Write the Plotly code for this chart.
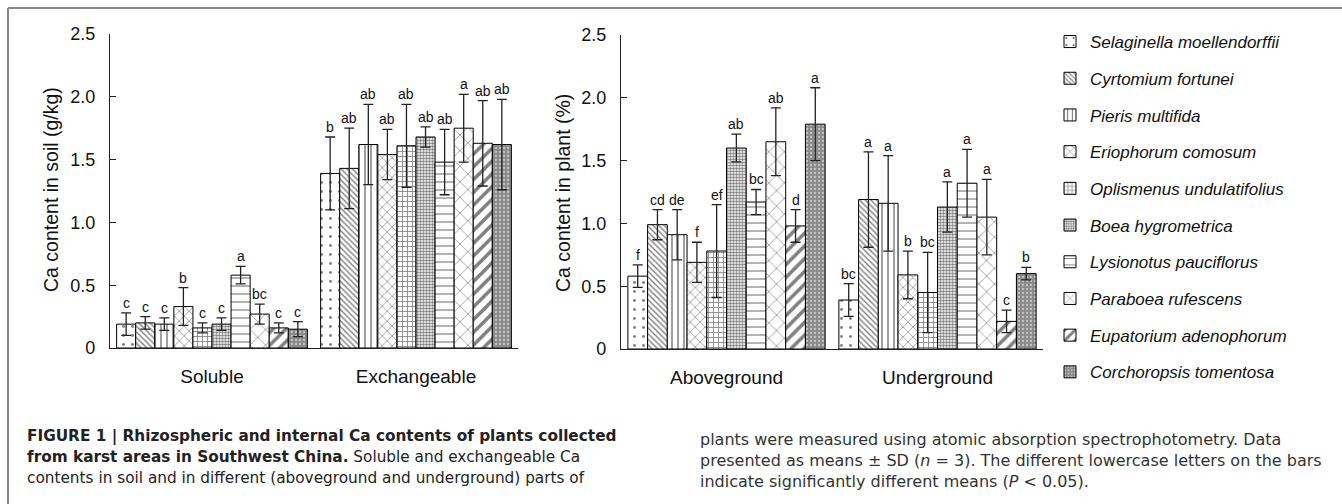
import plotly.graph_objects as go

species = ["Selaginella moellendorffii", "Cyrtomium fortunei", "Pieris multifida",
           "Eriophorum comosum", "Oplismenus undulatifolius", "Boea hygrometrica",
           "Lysionotus pauciflorus", "Paraboea rufescens", "Eupatorium adenophorum",
           "Corchoropsis tomentosa"]

soil_groups = ["Soluble", "Exchangeable"]
plant_groups = ["Aboveground", "Underground"]

soluble_mean = [0.19, 0.20, 0.19, 0.33, 0.16, 0.19, 0.58, 0.27, 0.16, 0.15]
soluble_sd = [0.09, 0.05, 0.05, 0.15, 0.04, 0.05, 0.07, 0.08, 0.04, 0.06]
soluble_sig = ["c", "c", "c", "b", "c", "c", "a", "bc", "c", "c"]

exch_mean = [1.39, 1.43, 1.62, 1.54, 1.61, 1.68, 1.48, 1.75, 1.63, 1.62]
exch_sd = [0.29, 0.32, 0.32, 0.20, 0.33, 0.08, 0.26, 0.27, 0.34, 0.36]
exch_sig = ["b", "ab", "ab", "ab", "ab", "ab", "ab", "a", "ab", "ab"]

above_mean = [0.58, 0.99, 0.91, 0.69, 0.78, 1.60, 1.17, 1.65, 0.98, 1.79]
above_sd = [0.09, 0.12, 0.20, 0.16, 0.37, 0.11, 0.10, 0.27, 0.13, 0.29]
above_sig = ["f", "cd", "de", "f", "ef", "ab", "bc", "ab", "d", "a"]

under_mean = [0.39, 1.19, 1.16, 0.59, 0.45, 1.13, 1.32, 1.05, 0.22, 0.60]
under_sd = [0.13, 0.38, 0.38, 0.19, 0.32, 0.20, 0.27, 0.30, 0.09, 0.05]
under_sig = ["bc", "a", "a", "b", "bc", "a", "a", "a", "c", "b"]

ytick_vals = [0, 0.5, 1.0, 1.5, 2.0, 2.5]
ytick_text = ["0", "0.5", "1.0", "1.5", "2.0", "2.5"]

patterns = [
    dict(shape=".", size=9, solidity=0.08, fgcolor="black", bgcolor="white"),
    dict(shape="\\", size=4, solidity=0.35, fgcolor="black", bgcolor="white"),
    dict(shape="|", size=6, solidity=0.25, fgcolor="black", bgcolor="white"),
    dict(shape="x", size=7, solidity=0.18, fgcolor="black", bgcolor="white"),
    dict(shape="+", size=5, solidity=0.3, fgcolor="black", bgcolor="white"),
    dict(shape=".", size=3, solidity=0.55, fgcolor="black", bgcolor="white"),
    dict(shape="-", size=8, solidity=0.15, fgcolor="black", bgcolor="white"),
    dict(shape="x", size=11, solidity=0.12, fgcolor="black", bgcolor="white"),
    dict(shape="/", size=9, solidity=0.4, fgcolor="black", bgcolor="white"),
    dict(shape=".", size=4, solidity=0.25, fgcolor="white", bgcolor="#8a8a8a"),
]

FONT = "Liberation Sans, Arial, sans-serif"
CAPFONT = "DejaVu Sans, Liberation Sans, sans-serif"
GAP = 0.065
n = len(species)
w = (1 - GAP) / n

fig = go.Figure()
annotations = []

panels = [
    ("x", "y", [soluble_mean, exch_mean], [soluble_sd, exch_sd], [soluble_sig, exch_sig]),
    ("x2", "y2", [above_mean, under_mean], [above_sd, under_sd], [above_sig, under_sig]),
]

for p, (xa, ya, means, sds, sigs) in enumerate(panels):
    for j, name in enumerate(species):
        xs = [g + (j - (n - 1) / 2) * w for g in range(2)]
        ys = [means[g][j] for g in range(2)]
        es = [sds[g][j] for g in range(2)]
        fig.add_trace(go.Bar(
            x=xs, y=ys, width=w, name=name, xaxis=xa, yaxis=ya,
            legendgroup=name, showlegend=(p == 0),
            marker=dict(color="white", pattern=patterns[j],
                        line=dict(color="black", width=1)),
            error_y=dict(type="data", array=es, visible=True, color="#222",
                         thickness=1.3, width=5),
        ))
        for g in range(2):
            annotations.append(dict(
                x=xs[g], y=ys[g] + es[g], xref=xa, yref=ya, text=sigs[g][j],
                showarrow=False, yanchor="bottom", yshift=0,
                font=dict(family=FONT, size=14, color="#111")))

W, H = 1342, 504
def px(v):
    return v / W
def py(v):
    return 1 - v / H

axis_common = dict(range=[0, 2.5], tickvals=ytick_vals, ticktext=ytick_text,
                   ticks="inside", ticklen=6, tickcolor="#222", showline=True,
                   linecolor="#222", linewidth=1.2, showgrid=False, zeroline=False,
                   tickfont=dict(family=FONT, size=18, color="#111"),
                   ticklabelstandoff=10, automargin=False)
xcommon = dict(range=[-0.5, 1.5], tickvals=[0, 1], showline=True, linecolor="#222",
               linewidth=1.2, showgrid=False, zeroline=False, ticks="",
               tickfont=dict(family=FONT, size=19, color="#111"),
               ticklabelstandoff=11, automargin=False)

fig.update_layout(
    width=W, height=H, margin=dict(l=0, r=0, t=0, b=0),
    paper_bgcolor="white", plot_bgcolor="white",
    barmode="overlay",
    xaxis=dict(domain=[px(110), px(518)], anchor="y", ticktext=soil_groups, **xcommon),
    yaxis=dict(domain=[py(348), py(34)], anchor="x", **axis_common),
    xaxis2=dict(domain=[px(621), px(1043)], anchor="y2", ticktext=plant_groups, **xcommon),
    yaxis2=dict(domain=[py(349), py(35)], anchor="x2", **axis_common),
    legend=dict(x=px(1050), y=py(24), xanchor="left", yanchor="top",
                font=dict(family=FONT, size=17, color="#111", style="italic"),
                tracegroupgap=11.6, bgcolor="rgba(0,0,0,0)", itemclick=False),
    showlegend=True,
)

# axis titles
annotations.append(dict(x=px(38), y=py(190), xref="paper", yref="paper",
                        text="Ca content in soil (g/kg)", textangle=-90, showarrow=False,
                        font=dict(family=FONT, size=19.5, color="#111")))
annotations.append(dict(x=px(563), y=py(193), xref="paper", yref="paper",
                        text="Ca content in plant (%)", textangle=-90, showarrow=False,
                        font=dict(family=FONT, size=19.5, color="#111")))

caption_left = [
    "<b>FIGURE 1 | Rhizospheric and internal Ca contents of plants collected</b>",
    "<b>from karst areas in Southwest China.</b> Soluble and exchangeable Ca",
    "contents in soil and in different (aboveground and underground) parts of",
]
caption_right = [
    "plants were measured using atomic absorption spectrophotometry. Data",
    "presented as means ± SD (<i>n</i> = 3). The different lowercase letters on the bars",
    "indicate significantly different means (<i>P</i> < 0.05).",
]
for i, t in enumerate(caption_left):
    annotations.append(dict(x=px(25), y=py(436 + 21 * i), xref="paper", yref="paper",
                            text=t, showarrow=False, xanchor="left", yanchor="middle",
                            font=dict(family=CAPFONT, size=15.3, color="#222")))
for i, t in enumerate(caption_right):
    annotations.append(dict(x=px(698), y=py(439 + 21 * i), xref="paper", yref="paper",
                            text=t, showarrow=False, xanchor="left", yanchor="middle",
                            font=dict(family=CAPFONT, size=16, color="#333")))

fig.update_layout(annotations=annotations)

fig.add_shape(type="line", xref="paper", yref="paper", x0=px(8), x1=1, y0=py(8), y1=py(8),
              line=dict(color="#888", width=2))
fig.add_shape(type="line", xref="paper", yref="paper", x0=px(8), x1=px(8), y0=py(8), y1=0,
              line=dict(color="#888", width=2))

fig.write_html("out.html")
